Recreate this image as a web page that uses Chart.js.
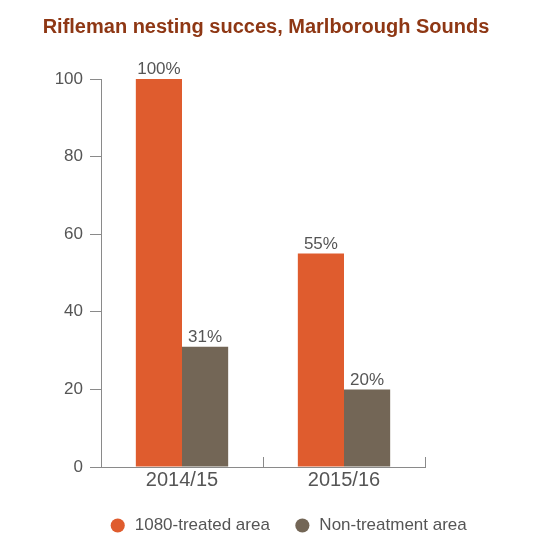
<!DOCTYPE html>
<html>
<head>
<meta charset="utf-8">
<script src="https://cdn.jsdelivr.net/npm/chart.js@4/dist/chart.umd.min.js"></script>
<style>
  html, body { margin: 0; padding: 0; background: #fff; }
  #wrap { width: 554px; height: 553px; }
</style>
</head>
<body>
<div id="wrap"><canvas id="chart_div"></canvas></div>
<script>
// data
const seasons = ["2014/15", "2015/16"];
const treated = [100, 55];
const nonTreated = [31, 20];
const seriesNames = ["1080-treated area", "Non-treatment area"];
const yTicks = [0, 20, 40, 60, 80, 100];

const orange = "#DF5C2E";
const brown = "#736656";
const axisGrey = "#8a8a8a";
const textGrey = "#555555";

Chart.defaults.font.family = "'Liberation Sans', Arial, sans-serif";

// percentage labels above each bar
const barLabels = {
	id: "barLabels",
	afterDatasetsDraw(chart) {
		const ctx = chart.ctx;
		ctx.save();
		ctx.font = "17px 'Liberation Sans', Arial, sans-serif";
		ctx.fillStyle = textGrey;
		ctx.textAlign = "center";
		ctx.textBaseline = "bottom";
		chart.data.datasets.forEach(function (ds, d) {
			chart.getDatasetMeta(d).data.forEach(function (bar, i) {
				ctx.fillText(ds.data[i] + "%", bar.x, bar.y - 1);
			});
		});
		ctx.restore();
	}
};

// little upward ticks between categories on the x axis
const catTicks = {
	id: "catTicks",
	afterDraw(chart) {
		const x = chart.scales.x;
		const ctx = chart.ctx;
		ctx.save();
		ctx.strokeStyle = axisGrey;
		ctx.lineWidth = 1;
		for (var i = 0; i < seasons.length; i++) {
			var px = Math.round(x.getPixelForValue(i + 0.5)) + 0.5;
			ctx.beginPath();
			ctx.moveTo(px, x.top);
			ctx.lineTo(px, x.top - 10);
			ctx.stroke();
		}
		ctx.restore();
	}
};

// move the legend a bit right, like the original
const legendShift = {
	id: "legendShift",
	afterLayout(chart) {
		chart.legend.left += 22;
		chart.legend.right += 22;
	}
};

const ctx = document.getElementById("chart_div").getContext("2d");
const myChart = new Chart(ctx, {
	type: "bar",
	data: {
		labels: seasons,
		datasets: [
			{ label: seriesNames[0], data: treated, backgroundColor: orange, barPercentage: 1, categoryPercentage: 0.57 },
			{ label: seriesNames[1], data: nonTreated, backgroundColor: brown, barPercentage: 1, categoryPercentage: 0.57 }
		]
	},
	options: {
		responsive: true,
		maintainAspectRatio: false,
		animation: false,
		layout: { padding: { left: 0, right: 22, top: 0, bottom: 9 } },
		plugins: {
			title: {
				display: true,
				text: "Rifleman nesting succes, Marlborough Sounds",
				color: "#8E3714",
				font: { size: 20, weight: "bold" },
				padding: { top: 15, bottom: 40 }
			},
			legend: {
				position: "bottom",
				labels: {
					usePointStyle: true,
					pointStyle: "circle",
					boxWidth: 17,
					boxHeight: 10,
					padding: 24,
					color: textGrey,
					font: { size: 17 }
				}
			},
			tooltip: { enabled: false }
		},
		scales: {
			x: {
				grid: { display: false, drawTicks: false },
				border: { display: true, color: axisGrey, width: 1 },
				ticks: { color: textGrey, font: { size: 20 }, padding: 1 }
			},
			y: {
				min: 0,
				max: 100,
				afterFit: function (s) { s.width = 101; },
				afterBuildTicks: function (s) { s.ticks = yTicks.map(function (v) { return { value: v }; }); },
				grid: { drawOnChartArea: false, tickLength: 11, color: axisGrey },
				border: { display: true, color: axisGrey, width: 1 },
				ticks: { color: textGrey, font: { size: 17 }, padding: 7 }
			},
			y2: {
				position: "right",
				display: true,
				afterFit: function (s) { s.width = 107; },
				grid: { display: false, drawTicks: false },
				border: { display: false },
				ticks: { display: false }
			}
		}
	},
	plugins: [barLabels, catTicks, legendShift]
});
</script>
</body>
</html>
